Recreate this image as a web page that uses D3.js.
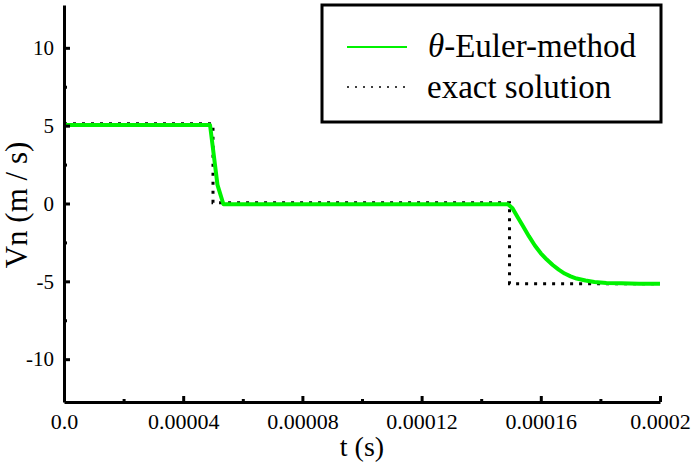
<html>
<head>
<title>theta Euler</title>
<style>
  body { margin: 0; background: #fff; }
  text { font-family: "Liberation Serif", "Times New Roman", serif; fill: #000; }
</style>
</head>
<body>
<script src="https://d3js.org/d3.v7.min.js"></script>
<script>
// tick values and labels
var xTicks = [0, 0.00004, 0.00008, 0.00012, 0.00016, 0.0002];
var xTickLabels = ["0.0", "0.00004", "0.00008", "0.00012", "0.00016", "0.0002"];
var xMinor = [0.00002, 0.00006, 0.0001, 0.00014, 0.00018];
var yTicks = [10, 5, 0, -5, -10];
var yTickLabels = ["10", "5", "0", "-5", "-10"];
var yMinor = [7.5, 2.5, -2.5, -7.5];

// theta-Euler-method series
var eulerT = [0, 0.000049, 0.0000515, 0.0000535, 0.000149, 0.0001505, 0.000152, 0.000154, 0.000156,
  0.000158, 0.00016, 0.000162, 0.000164, 0.000166, 0.000168, 0.00017, 0.000172, 0.000175,
  0.000178, 0.000182, 0.000187, 0.000193, 0.0002];
var eulerV = [5.05, 5.05, 1.2, -0.05, -0.05, -0.3, -0.8, -1.45, -2.1,
  -2.7, -3.2, -3.6, -3.95, -4.25, -4.5, -4.68, -4.82, -4.95,
  -5.04, -5.1, -5.13, -5.15, -5.15];

// exact solution
var exactT = [0, 0.00005, 0.00005, 0.0001495, 0.0001495, 0.0002];
var exactV = [5.12, 5.12, 0.05, 0.05, -5.15, -5.15];

var W = 697, H = 462;
var svg = d3.select('body').append('svg').attr('width', W).attr('height', H);

var x = d3.scaleLinear().domain([0, 0.0002]).range([64, 660]);
var y = d3.scaleLinear().domain([-12.75, 12.75]).range([402, 5]);

var line = d3.line()
  .x(function(d) { return x(d[0]); })
  .y(function(d) { return y(d[1]); });

var exact = exactT.map(function(t, i) { return [t, exactV[i]]; });
var euler = eulerT.map(function(t, i) { return [t, eulerV[i]]; });

svg.append('path')
  .attr('d', line(exact))
  .attr('fill', 'none')
  .attr('stroke', '#000')
  .attr('stroke-width', 3)
  .attr('stroke-dasharray', '3,6');

svg.append('path')
  .attr('d', line(euler))
  .attr('fill', 'none')
  .attr('stroke', '#00f200')
  .attr('stroke-width', 4)
  .attr('stroke-linejoin', 'round');

// minor ticks
svg.append('g')
  .attr('transform', 'translate(0,' + 402 + ')')
  .call(d3.axisBottom(x).tickValues(xMinor).tickSize(-3).tickFormat(''))
  .call(function(g) { g.select('.domain').remove(); })
  .selectAll('line').attr('stroke-width', 3);

svg.append('g')
  .attr('transform', 'translate(64,0)')
  .call(d3.axisLeft(y).tickValues(yMinor).tickSize(-3).tickFormat(''))
  .call(function(g) { g.select('.domain').remove(); })
  .selectAll('line').attr('stroke-width', 3);

// major axes
var xAxis = svg.append('g')
  .attr('transform', 'translate(0,' + 402 + ')')
  .call(d3.axisBottom(x).tickValues(xTicks).tickSizeInner(-6).tickSizeOuter(0).tickPadding(11)
    .tickFormat(function(d, i) { return xTickLabels[i]; }));
xAxis.select('.domain').attr('stroke-width', 3);
xAxis.selectAll('line').attr('stroke-width', 3);
xAxis.selectAll('text').style('font-size', '22px').style('font-family', '"Liberation Serif", serif');

var yAxis = svg.append('g')
  .attr('transform', 'translate(64,0)')
  .call(d3.axisLeft(y).tickValues(yTicks).tickSizeInner(-6).tickSizeOuter(0).tickPadding(10)
    .tickFormat(function(d, i) { return yTickLabels[i]; }));
yAxis.select('.domain').attr('stroke-width', 3);
yAxis.selectAll('line').attr('stroke-width', 3);
yAxis.selectAll('text').style('font-size', '21px').style('font-family', '"Liberation Serif", serif');

// axis titles
svg.append('text')
  .attr('x', 362).attr('y', 456)
  .attr('text-anchor', 'middle')
  .style('font-size', '28px')
  .text('t (s)');

svg.append('text')
  .attr('transform', 'translate(27,' + 205 + ') rotate(-90)')
  .attr('text-anchor', 'middle')
  .style('font-size', '31px')
  .text('Vn (m / s)');

// legend
var lg = svg.append('g');
lg.append('rect')
  .attr('x', 322).attr('y', 5).attr('width', 339).attr('height', 117)
  .attr('fill', '#fff').attr('stroke', '#000').attr('stroke-width', 3);
lg.append('line')
  .attr('x1', 347).attr('x2', 407).attr('y1', 47).attr('y2', 47)
  .attr('stroke', '#00f200').attr('stroke-width', 2);
lg.append('line')
  .attr('x1', 347).attr('x2', 405).attr('y1', 87).attr('y2', 87)
  .attr('stroke', '#000').attr('stroke-width', 1.5).attr('stroke-dasharray', '2,6');
var t1 = lg.append('text').attr('x', 428).attr('y', 57).style('font-size', '33px');
t1.append('tspan').style('font-style', 'italic').text('\u03B8');
t1.append('tspan').text('-Euler-method');
lg.append('text').attr('x', 427).attr('y', 98).style('font-size', '33px').text('exact solution');
</script>
</body>
</html>
